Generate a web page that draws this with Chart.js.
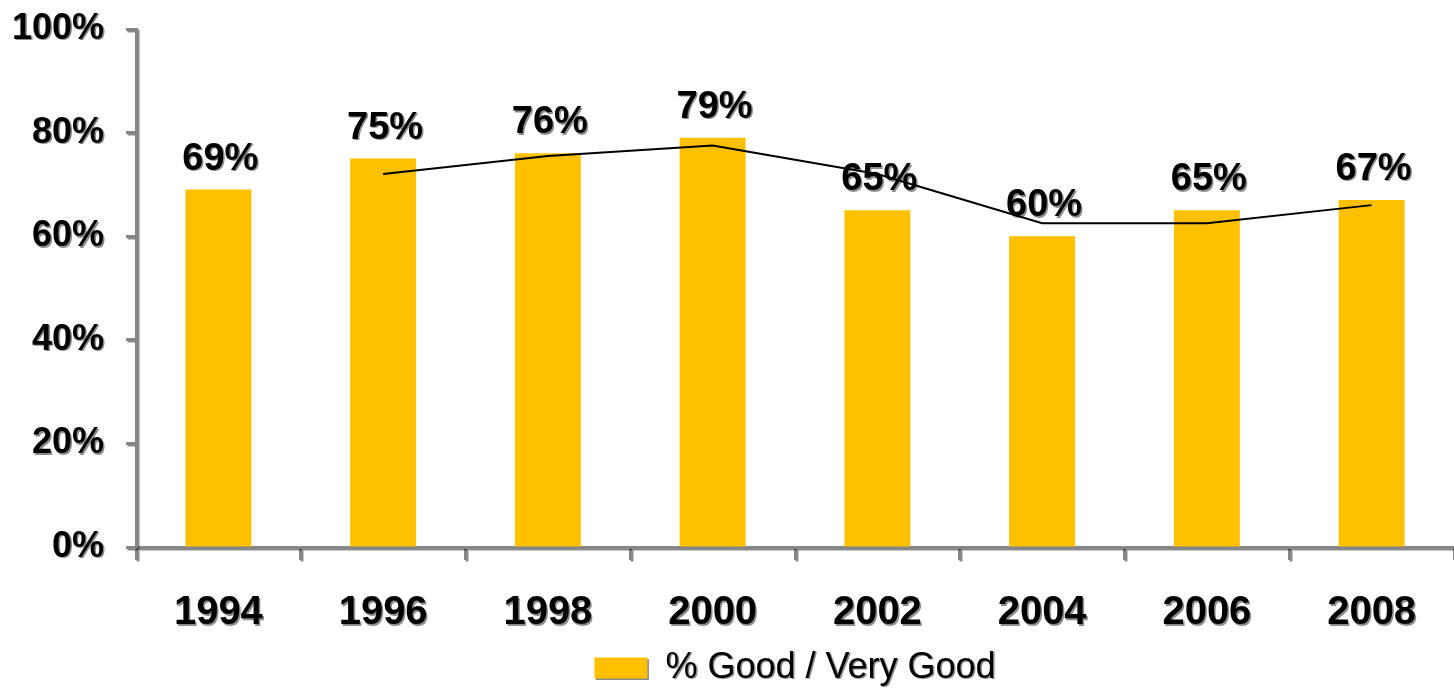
<!DOCTYPE html>
<html>
<head>
<meta charset="utf-8">
<script src="https://cdn.jsdelivr.net/npm/chart.js@4/dist/chart.umd.min.js"></script>
<style>
  html, body { margin: 0; padding: 0; background: #fff; }
  #wrap { width: 1454px; height: 688px; }
</style>
</head>
<body>
<div id="wrap"><canvas id="chart"></canvas></div>
<script>
// Années et valeurs
const annees = ['1994', '1996', '1998', '2000', '2002', '2004', '2006', '2008'];
const pctBon = [69, 75, 76, 79, 65, 60, 65, 67];
// Courbe de tendance (moyenne mobile)
const tendance = [null, 72, 75.5, 77.5, 72, 62.5, 62.5, 66];
const ticksY = [0, 20, 40, 60, 80, 100];

const gris = '#868686';
const ombre = 'rgba(0,0,0,0.45)';

function setOmbre(ctx, on) {
    ctx.shadowColor = on ? ombre : 'rgba(0,0,0,0)';
    ctx.shadowOffsetX = on ? 1.5 : 0;
    ctx.shadowOffsetY = on ? 1.5 : 0;
    ctx.shadowBlur = 0;
}

// Étiquettes au-dessus des barres + ombre du texte
const pluginTexte = {
    id: 'texte',
    beforeDraw(chart) { setOmbre(chart.ctx, true); },
    beforeDatasetsDraw(chart) { setOmbre(chart.ctx, false); },
    afterDatasetsDraw(chart) {
        const ctx = chart.ctx;
        const meta = chart.getDatasetMeta(1); // barres
        ctx.save();
        setOmbre(ctx, true);
        ctx.font = 'bold 38px "Liberation Sans", Arial, sans-serif';
        ctx.fillStyle = '#000';
        ctx.textAlign = 'center';
        ctx.textBaseline = 'alphabetic';
        meta.data.forEach((bar, i) => {
            ctx.fillText(pctBon[i] + '%', bar.x + 2, bar.y - 20);
        });
        ctx.restore();
    },
    afterDraw(chart) { setOmbre(chart.ctx, false); }
};

const ctxChart = document.getElementById('chart').getContext('2d');
new Chart(ctxChart, {
    data: {
        labels: annees,
        datasets: [
            {
                type: 'line',
                label: 'Tendance',
                data: tendance,
                borderColor: '#000',
                borderWidth: 2,
                pointRadius: 0,
                tension: 0,
                fill: false,
                order: 0,
            },
            {
                type: 'bar',
                label: '% Good / Very Good',
                data: pctBon,
                backgroundColor: '#FFC000',
                barPercentage: 0.4,
                categoryPercentage: 1,
                order: 1,
            },
        ],
    },
    options: {
        responsive: true,
        maintainAspectRatio: false,
        animation: false,
        layout: { padding: { top: 29, right: 0, bottom: -8, left: 0 } },
        plugins: {
            legend: {
                position: 'bottom',
                fullSize: false,
                labels: {
                    filter: item => item.text !== 'Tendance',
                    boxWidth: 53,
                    boxHeight: 21,
                    padding: 6,
                    color: '#000',
                    font: { family: '"Liberation Sans", Arial, sans-serif', size: 36 },
                },
            },
            tooltip: { enabled: false },
        },
        scales: {
            x: {
                offset: true,
                afterFit: scale => { scale.height = 97; scale.paddingLeft = 0; scale.paddingRight = 0; },
                grid: {
                    offset: true,
                    drawOnChartArea: false,
                    drawTicks: true,
                    tickLength: 13,
                    tickWidth: 3,
                    color: gris,
                },
                border: { color: gris, width: 3 },
                ticks: {
                    padding: 29,
                    color: '#000',
                    font: { family: '"Liberation Sans", Arial, sans-serif', size: 40, weight: 'bold' },
                },
            },
            y: {
                min: 0,
                max: 100,
                afterFit: scale => { scale.width = 136; scale.paddingTop = 0; scale.paddingBottom = 0; },
                afterBuildTicks: scale => { scale.ticks = ticksY.map(v => ({ value: v })); },
                grid: {
                    drawOnChartArea: false,
                    drawTicks: true,
                    tickLength: 10,
                    tickWidth: 3,
                    color: gris,
                },
                border: { color: gris, width: 3 },
                ticks: {
                    padding: 22,
                    color: '#000',
                    callback: v => v + '%',
                    font: { family: '"Liberation Sans", Arial, sans-serif', size: 36, weight: 'bold' },
                },
            },
        },
    },
    plugins: [pluginTexte],
});
</script>
</body>
</html>
